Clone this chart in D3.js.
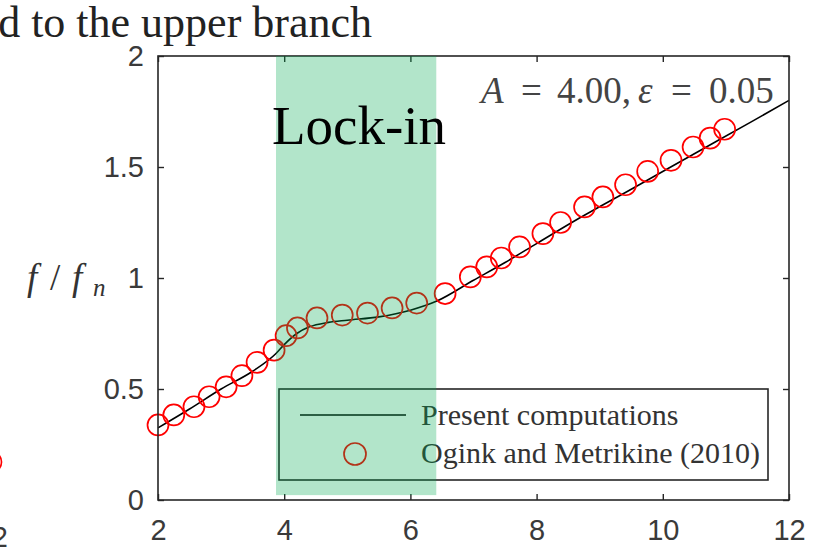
<!DOCTYPE html>
<html>
<head>
<meta charset="utf-8">
<script src="https://cdn.jsdelivr.net/npm/d3@7"></script>
<style>
  html, body { margin: 0; padding: 0; background: #fff; }
  svg { display: block; }
</style>
</head>
<body>
<svg id="chart" width="828" height="555"></svg>
<script>
// Present computations: smooth response curve (f/f_n against reduced velocity)
const curveX = [2.0, 2.5, 3.0, 3.5, 3.87, 4.0, 4.2, 4.4, 4.7, 5.0, 5.5, 6.0, 6.41, 7.0, 7.5, 8.0, 8.68, 9.5, 10.5, 11.38, 12.0];
const curveY = [0.325, 0.41, 0.50, 0.58, 0.66, 0.70, 0.75, 0.78, 0.80, 0.81, 0.825, 0.855, 0.895, 0.99, 1.07, 1.155, 1.27, 1.40, 1.56, 1.70, 1.80];

// Ogink and Metrikine (2010) reference points
const refX = [2.0, 2.25, 2.57, 2.81, 3.08, 3.33, 3.57, 3.84, 4.03, 4.21, 4.52, 4.92, 5.32, 5.71, 6.10, 6.55, 6.95, 7.21, 7.44, 7.73, 8.10, 8.38, 8.76, 9.05, 9.41, 9.76, 10.13, 10.48, 10.75, 10.98];
const refY = [0.338, 0.383, 0.42, 0.465, 0.51, 0.56, 0.62, 0.675, 0.74, 0.775, 0.82, 0.833, 0.842, 0.865, 0.887, 0.93, 1.005, 1.05, 1.09, 1.14, 1.20, 1.25, 1.32, 1.365, 1.42, 1.48, 1.53, 1.59, 1.63, 1.67];

// Lock-in band (x range) and its vertical extent
const lockInX = [3.87, 6.41];
const lockInY = [0.022, 2.0];

const xTicks = [2, 4, 6, 8, 10, 12];
const xTickLabels = ["2", "4", "6", "8", "10", "12"];
const yTicks = [0, 0.5, 1, 1.5, 2];
const yTickLabels = ["0", "0.5", "1", "1.5", "2"];

const legendLabels = ["Present computations", "Ogink and Metrikine (2010)"];

const svg = d3.select("#chart");
const x = d3.scaleLinear().domain([2, 12]).range([158, 789]);
const y = d3.scaleLinear().domain([0, 2]).range([500, 56]);

const axisColor = "#262626";
const tickTextColor = "#3a3a3a";
const sans = "'Liberation Sans', Arial, sans-serif";
const serif = "'Liberation Serif', 'Times New Roman', serif";

// Caption text running above the panel
svg.append("text")
  .attr("x", 372).attr("y", 37)
  .attr("text-anchor", "end")
  .style("font-family", serif).style("font-size", "44px").style("fill", "#222")
  .text("d to the upper branch");

// Edge of the neighbouring panel
svg.append("text")
  .attr("x", 8).attr("y", 547)
  .attr("text-anchor", "end")
  .style("font-family", sans).style("font-size", "29px").style("fill", tickTextColor)
  .text("2");
svg.append("circle")
  .attr("cx", -9).attr("cy", 462).attr("r", 10.5)
  .attr("fill", "none").attr("stroke", "#ff0000").attr("stroke-width", 1.7);

// Curve
const line = d3.line().x(d => x(d[0])).y(d => y(d[1])).curve(d3.curveMonotoneX);
svg.append("path")
  .datum(curveX.map((v, i) => [v, curveY[i]]))
  .attr("d", line)
  .attr("fill", "none").attr("stroke", "#000").attr("stroke-width", 1.6);

// Reference markers
svg.append("g").selectAll("circle")
  .data(refX.map((v, i) => [v, refY[i]]))
  .join("circle")
  .attr("cx", d => x(d[0])).attr("cy", d => y(d[1])).attr("r", 10.5)
  .attr("fill", "none").attr("stroke", "#ff0000").attr("stroke-width", 1.7);

// Axes box with inward ticks on all sides
function styleAxis(g) {
  g.select(".domain").remove();
  g.selectAll(".tick line").attr("stroke", axisColor).attr("stroke-width", 1.4);
  g.selectAll(".tick text").style("font-family", sans).style("font-size", "29px").style("fill", tickTextColor);
}
svg.append("g").attr("transform", `translate(0,${y(0)})`)
  .call(d3.axisBottom(x).tickValues(xTicks).tickSize(-6).tickPadding(19)
    .tickFormat((d, i) => xTickLabels[i]))
  .call(styleAxis);
svg.append("g").attr("transform", `translate(0,${y(2)})`)
  .call(d3.axisTop(x).tickValues(xTicks).tickSize(-6).tickFormat(""))
  .call(styleAxis);
svg.append("g").attr("transform", `translate(${x(2)},0)`)
  .call(d3.axisLeft(y).tickValues(yTicks).tickSize(-6).tickPadding(14)
    .tickFormat((d, i) => yTickLabels[i]))
  .call(styleAxis);
svg.append("g").attr("transform", `translate(${x(12)},0)`)
  .call(d3.axisRight(y).tickValues(yTicks).tickSize(-6).tickFormat(""))
  .call(styleAxis);
svg.append("rect")
  .attr("x", x(2)).attr("y", y(2))
  .attr("width", x(12) - x(2)).attr("height", y(0) - y(2))
  .attr("fill", "none").attr("stroke", axisColor).attr("stroke-width", 1.6);

// Y axis label f/f_n, set with math-style spacing
const yl = svg.append("text")
  .attr("y", 290)
  .style("font-family", serif).style("font-size", "37px").style("fill", "#333");
yl.append("tspan").attr("x", 27).style("font-style", "italic").text("f");
yl.append("tspan").attr("x", 50).text("/");
yl.append("tspan").attr("x", 72).style("font-style", "italic").text("f");
yl.append("tspan").attr("x", 93).attr("dy", 6).style("font-style", "italic").style("font-size", "25px").text("n");

// Parameter annotation, set with math-style spacing
const ann = svg.append("text")
  .attr("y", 103)
  .style("font-family", serif).style("font-size", "37px").style("fill", "#444");
ann.append("tspan").attr("x", 481).style("font-style", "italic").text("A");
ann.append("tspan").attr("x", 521).text("=");
ann.append("tspan").attr("x", 557).text("4.00,");
ann.append("tspan").attr("x", 638).style("font-style", "italic").text("ε");
ann.append("tspan").attr("x", 671).text("=");
ann.append("tspan").attr("x", 709).text("0.05");

// Legend
const lg = svg.append("g");
lg.append("rect")
  .attr("x", 279).attr("y", 389).attr("width", 489).attr("height", 91)
  .attr("fill", "#fff").attr("stroke", axisColor).attr("stroke-width", 1.6);
lg.append("line")
  .attr("x1", 300).attr("x2", 406).attr("y1", 415).attr("y2", 415)
  .attr("stroke", "#000").attr("stroke-width", 1.6);
lg.append("circle")
  .attr("cx", 355).attr("cy", 454).attr("r", 11)
  .attr("fill", "none").attr("stroke", "#ff0000").attr("stroke-width", 1.7);
lg.selectAll("text.lbl")
  .data(legendLabels)
  .join("text").attr("class", "lbl")
  .attr("x", 421).attr("y", (d, i) => 425 + i * 38)
  .style("font-family", serif).style("font-size", "30px").style("fill", "#333")
  .text(d => d);

// Translucent lock-in band laid over the data
svg.append("rect")
  .attr("x", x(lockInX[0])).attr("y", y(lockInY[1]))
  .attr("width", x(lockInX[1]) - x(lockInX[0]))
  .attr("height", y(lockInY[0]) - y(lockInY[1]))
  .attr("fill", "rgb(0,170,80)").attr("fill-opacity", 0.3);

svg.append("text")
  .attr("x", 272).attr("y", 144)
  .style("font-family", serif).style("font-size", "55px").style("fill", "#000")
  .text("Lock-in");
</script>
</body>
</html>
